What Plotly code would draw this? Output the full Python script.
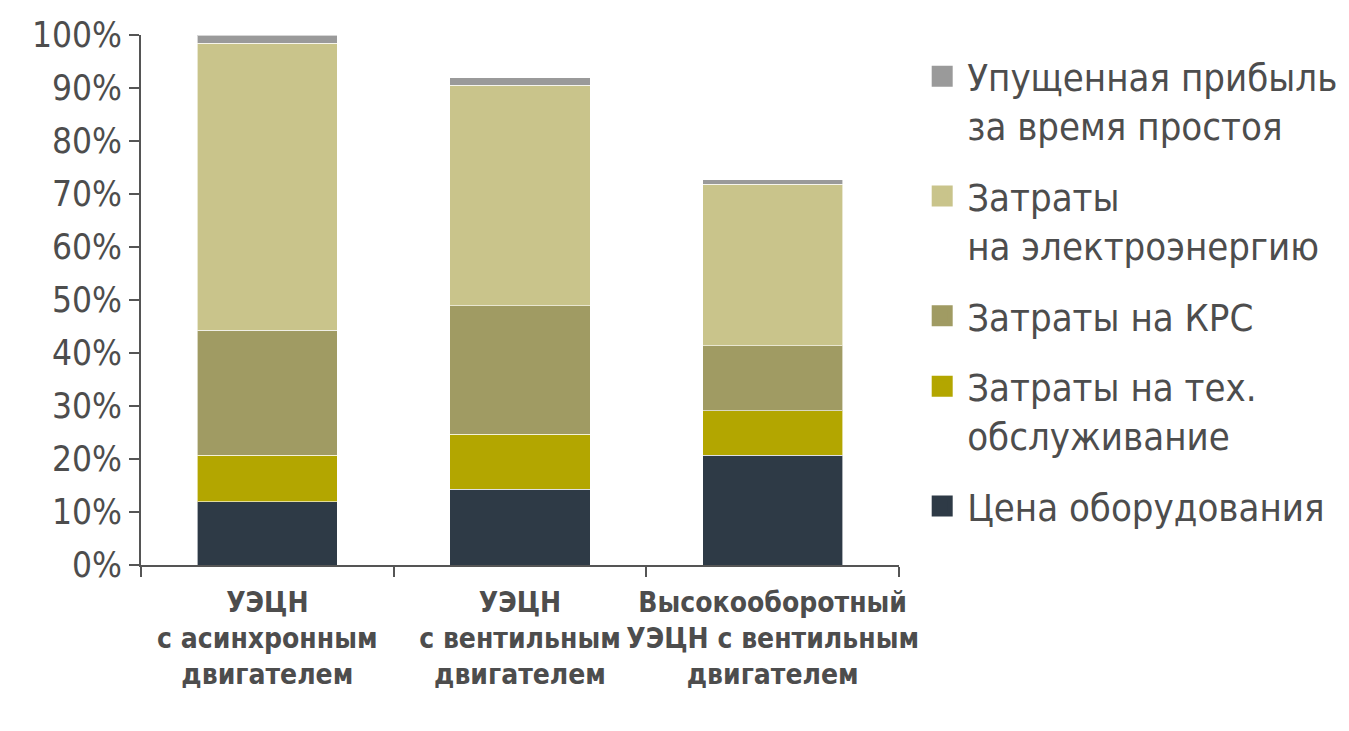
import plotly.graph_objects as go

categories = ["<b>УЭЦН<br>с асинхронным<br>двигателем</b>",
              "<b>УЭЦН<br>с вентильным<br>двигателем</b>",
              "<b>Высокооборотный<br>УЭЦН с вентильным<br>двигателем</b>"]

series_names = ["Цена оборудования",
                "Затраты на тех.<br>обслуживание",
                "Затраты на КРС",
                "Затраты<br>на электроэнергию",
                "Упущенная прибыль<br>за время простоя"]

equipment = [11.9, 14.3, 20.7]
maintenance = [8.8, 10.4, 8.4]
krs = [23.6, 24.2, 12.3]
energy = [54.1, 41.6, 30.4]
lost_profit = [1.6, 1.4, 0.9]

colors = ["#2E3A46", "#B3A600", "#A09B63", "#C9C48B", "#9A9A9A"]
values = [equipment, maintenance, krs, energy, lost_profit]

y_ticks = [0, 10, 20, 30, 40, 50, 60, 70, 80, 90, 100]
y_ticklabels = [f"{v}%" for v in y_ticks]

FONT = "DejaVu Sans Condensed, Roboto, sans-serif"
TXT = "#4D4D4D"

fig = go.Figure()
for name, vals, col in zip(series_names, values, colors):
    fig.add_trace(go.Bar(x=categories, y=vals, name=name, marker_color=col,
                         marker_line_color="rgba(255,255,255,0.6)", marker_line_width=1,
                         width=0.555, showlegend=False))
# legend entries (larger square swatches), top-to-bottom as in the chart stack
for name, col in reversed(list(zip(series_names, colors))):
    fig.add_trace(go.Scatter(x=[None], y=[None], mode="markers", name=name,
                             marker=dict(symbol="square", size=16, color=col,
                                         line=dict(color=col, width=5)),
                             legendgroup=name, showlegend=True))

fig.update_layout(
    barmode="stack",
    width=1349, height=731,
    margin=dict(l=141, r=450, t=35, b=166, autoexpand=False),
    plot_bgcolor="white", paper_bgcolor="white",
    font=dict(family=FONT, color=TXT),
    legend=dict(x=1.024, y=0.981, xanchor="left", yanchor="top",
                traceorder="grouped", tracegroupgap=18, valign="top",
                font=dict(size=38, family=FONT, color=TXT), maxheight=700,
                itemwidth=40, bgcolor="rgba(0,0,0,0)"),
    bargap=0.445,
)
fig.update_yaxes(range=[0, 100], tickmode="array", tickvals=y_ticks, ticktext=y_ticklabels,
                 showgrid=False, zeroline=False, showline=True, linecolor="#555555", linewidth=2,
                 ticks="outside", ticklen=10, tickcolor="#555555", tickwidth=2, automargin=False,
                 tickfont=dict(size=35, family=FONT, color=TXT))
fig.update_xaxes(type="category", range=[-0.5, 2.5], showgrid=False, showline=True,
                 linecolor="#555555", linewidth=2, ticks="outside", ticklen=10,
                 tickcolor="#555555", tickwidth=2, tickson="boundaries", tickangle=0,
                 ticklabelstandoff=11,
                 automargin=False, tickfont=dict(size=28, family=FONT, color=TXT))

fig.write_html("out.html")
